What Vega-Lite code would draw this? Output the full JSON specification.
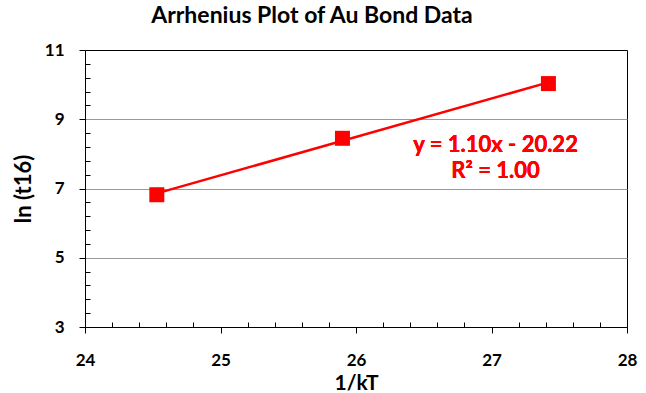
{
  "$schema": "https://vega.github.io/schema/vega-lite/v6.json",
  "width": 542,
  "height": 277,
  "autosize": "none",
  "padding": {"left": 85, "top": 50, "right": 19, "bottom": 66},
  "background": "white",
  "config": {"view": {"stroke": "#000", "strokeWidth": 1}, "font": "Lato"},
  "title": {"text": "Arrhenius Plot of Au Bond Data", "fontSize": 23, "fontWeight": "bold", "font": "Lato", "color": "#000", "offset": 13, "dx": -44},
  "data": {"values": [
    {"invkT": 24.53, "lnt16": 6.82},
    {"invkT": 25.9, "lnt16": 8.45},
    {"invkT": 27.42, "lnt16": 10.03}
  ]},
  "layer": [
    {
      "transform": [{"regression": "lnt16", "on": "invkT", "extent": [24.53, 27.42]}],
      "mark": {"type": "line", "color": "#ff0000", "strokeWidth": 2.5},
      "encoding": {
        "x": {"field": "invkT", "type": "quantitative", "scale": {"domain": [24, 28], "nice": false, "zero": false},
          "title": "1/kT",
          "axis": {
            "values": [24,24.2,24.4,24.6,24.8,25,25.2,25.4,25.6,25.8,26,26.2,26.4,26.6,26.8,27,27.2,27.4,27.6,27.8,28],
            "tickCount": 100,
            "format": ".1f",
            "labelOverlap": false,
            "labelExpr": "abs(datum.value - round(datum.value)) < 0.001 ? format(datum.value, 'd') : ''",
            "tickSize": {"condition": {"test": "abs(datum.value - round(datum.value)) < 0.001", "value": 6}, "value": -5},
            "tickColor": "#000", "domainColor": "#000", "grid": false,
            "labelFontSize": 17, "labelFontWeight": "bold", "labelColor": "#000", "labelPadding": 19, "labelFlush": false,
            "titleFontSize": 21, "titleFontWeight": "bold", "titleColor": "#000", "titlePadding": 4
          }},
        "y": {"field": "lnt16", "type": "quantitative", "scale": {"domain": [3, 11], "nice": false, "zero": false},
          "title": "ln (t16)",
          "axis": {
            "values": [3,3.4,3.8,4.2,4.6,5,5.4,5.8,6.2,6.6,7,7.4,7.8,8.2,8.6,9,9.4,9.8,10.2,10.6,11],
            "tickCount": 100,
            "format": ".1f",
            "labelOverlap": false,
            "labelExpr": "abs(datum.value - round(datum.value)) < 0.001 && round(datum.value) % 2 === 1 ? format(datum.value, 'd') : ''",
            "tickSize": {"condition": {"test": "abs(datum.value - round(datum.value)) < 0.001 && round(datum.value) % 2 === 1", "value": 6}, "value": -5},
            "tickColor": "#000", "domainColor": "#000",
            "grid": true,
            "gridColor": {"condition": {"test": "abs(datum.value - round(datum.value)) < 0.001 && round(datum.value) % 2 === 1 && datum.value > 3 && datum.value < 11", "value": "#999999"}, "value": "rgba(0,0,0,0)"},
            "labelFontSize": 17, "labelFontWeight": "bold", "labelColor": "#000", "labelPadding": 15,
            "titleFontSize": 22, "titleFontWeight": "bold", "titleColor": "#000", "titlePadding": 9
          }}
      }
    },
    {
      "mark": {"type": "point", "shape": "square", "filled": true, "color": "#ff0000", "size": 225, "opacity": 1},
      "encoding": {
        "x": {"field": "invkT", "type": "quantitative"},
        "y": {"field": "lnt16", "type": "quantitative"}
      }
    },
    {
      "mark": {"type": "text", "color": "#ff0000", "fontSize": 22, "fontWeight": "bold", "font": "Lato", "align": "center", "baseline": "middle"},
      "encoding": {
        "x": {"datum": 27.03},
        "y": {"datum": 8.26},
        "text": {"value": "y = 1.10x - 20.22"}
      }
    },
    {
      "mark": {"type": "text", "color": "#ff0000", "fontSize": 22, "fontWeight": "bold", "font": "Lato", "align": "center", "baseline": "middle"},
      "encoding": {
        "x": {"datum": 27.03},
        "y": {"datum": 7.5},
        "text": {"value": "R² = 1.00"}
      }
    }
  ]
}
